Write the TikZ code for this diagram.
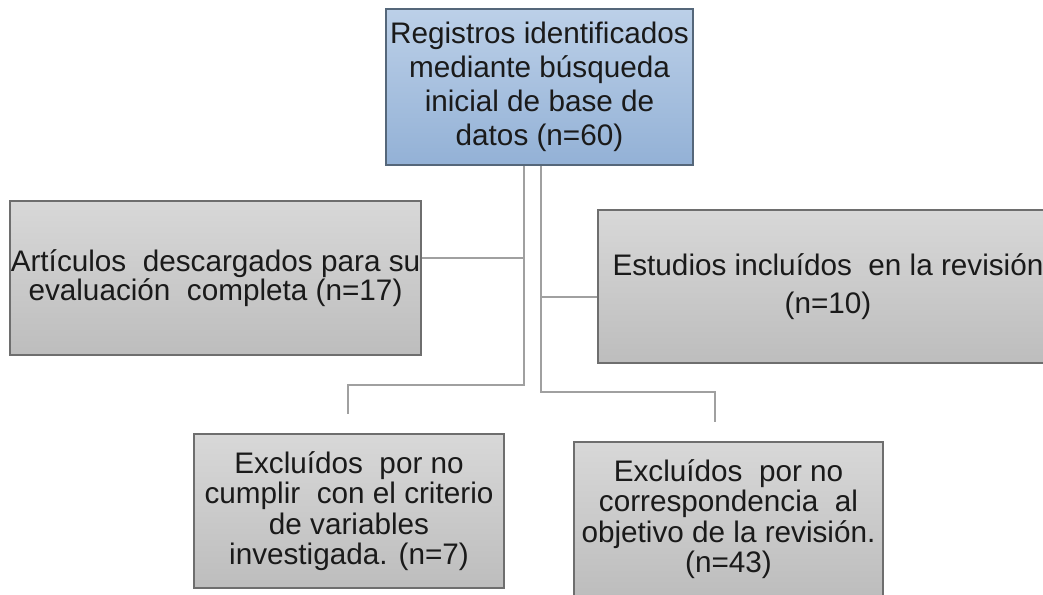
\documentclass[tikz,border=0pt]{standalone}
\usepackage{fontspec}
\setmainfont{Liberation Sans}
\definecolor{bluetop}{HTML}{BCD0E8}
\definecolor{bluebot}{HTML}{93B1D6}
\definecolor{blueline}{HTML}{55677A}
\definecolor{graytop}{HTML}{D8D8D8}
\definecolor{graybot}{HTML}{BDBDBD}
\definecolor{grayline}{HTML}{6E6E6E}
\definecolor{connc}{HTML}{A0A0A0}
\definecolor{txt}{HTML}{1A1A1A}
\begin{document}
\begin{tikzpicture}[x=1pt,y=-1pt,
  box/.style={draw=grayline, line width=1.6pt, top color=graytop, bottom color=graybot,
    inner sep=0pt, align=center, text=txt, anchor=center},
  bluebox/.style={box, draw=blueline, top color=bluetop, bottom color=bluebot},
  conn/.style={draw=connc, line width=2.4pt},
  fs/.style={font=\fontsize{29.7}{#1}\selectfont}]
\useasboundingbox (0,0) rectangle (1043,594);
\node[bluebox, fs=34, minimum width=307pt, minimum height=156pt] (top) at (539.5,87)
  {Registros identificados\\mediante búsqueda\\inicial de base de\\datos (n=60)};
\node[box, fs=29, minimum width=411pt, minimum height=154pt] (left) at (215.5,278)
  {Artículos\ \ descargados para su\\evaluación\ \ completa (n=17)};
\node[box, fs=38, minimum width=460pt, minimum height=153pt] (right) at (828,286.5)
  {Estudios incluídos\ \ en la revisión\\(n=10)};
\node[box, fs=30.5, minimum width=310pt, minimum height=154pt] (bl) at (349,511)
  {Excluídos\ \ por no\\cumplir\ \ con el criterio\\de variables\\investigada. (n=7)};
\node[box, fs=30.5, minimum width=309pt, minimum height=154pt] (br) at (728.5,519)
  {Excluídos\ \ por no\\correspondencia\ \ al\\objetivo de la revisión.\\(n=43)};
\coordinate (lj) at (524,258);
\coordinate (l1) at (524,385);
\coordinate (l2) at (348,414);
\coordinate (rj) at (541,297);
\coordinate (r1) at (541,392);
\coordinate (r2) at (715,422);
\draw[conn] (top.south -| l1) -- (l1) -| (l2);
\draw[conn] (top.south -| r1) -- (r1) -| (r2);
\draw[conn] (left.east |- lj) -- (lj);
\draw[conn] (rj) -- (right.west |- rj);
\end{tikzpicture}
\end{document}
